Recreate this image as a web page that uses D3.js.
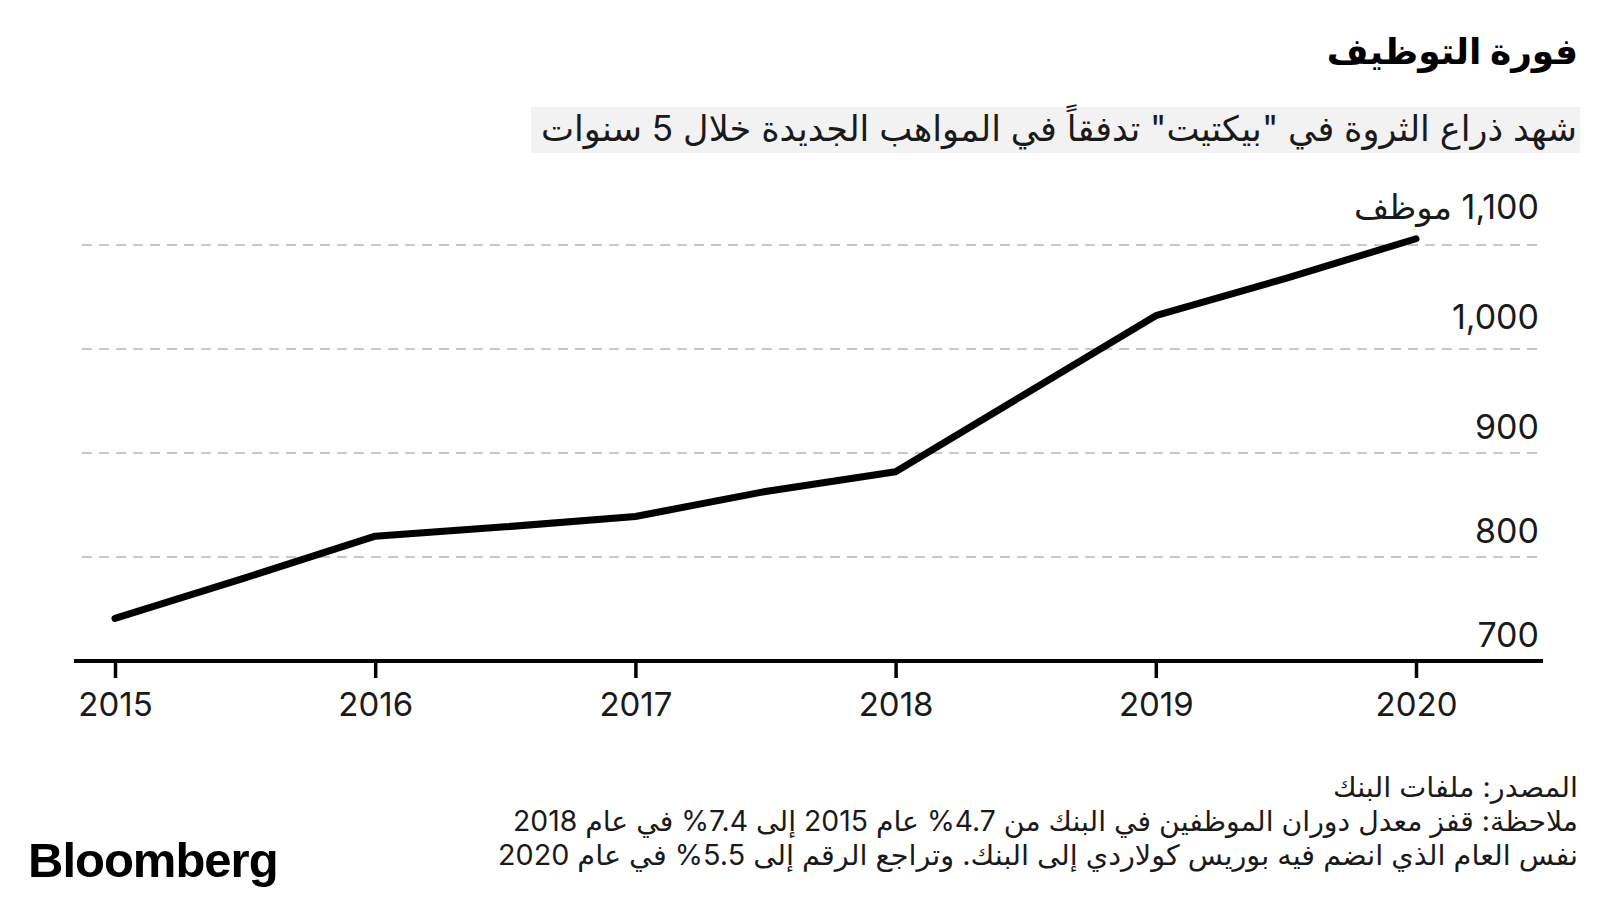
<!doctype html>
<html lang="ar">
<head>
<meta charset="utf-8">
<title>فورة التوظيف</title>
<script src="https://cdn.jsdelivr.net/npm/d3@7"></script>
<style>
	html, body {
		margin: 0;
		padding: 0;
		background: #fff;
	}
	text {
		font-family: Inter, "DejaVu Sans", sans-serif;
		fill: #1a1a1a;
	}
	.grid line {
		stroke: #c8c8c8;
		stroke-width: 2;
		stroke-dasharray: 10,7;
	}
</style>
</head>
<body>
<div id="viz"></div>
<script>

// DATA (staff count at half-year steps)
var years = [2015, 2015.5, 2016, 2016.5, 2017, 2017.5, 2018, 2018.5, 2019, 2019.5, 2020];
var staff = [741, 780, 820, 829, 839, 863, 882, 957, 1032, 1068, 1106];
var xTickYears = [2015, 2016, 2017, 2018, 2019, 2020];
var yTickValues = [700, 800, 900, 1000, 1100];
var yTickLabels = ["700", "800", "900", "1,000", "1,100 موظف"];

// \u202D ... \u202C keeps the percent sign on the left, as printed
var title = "فورة التوظيف";
var subtitle = "شهد ذراع الثروة في \"بيكتيت\" تدفقاً في المواهب الجديدة خلال 5 سنوات";
var notes = [
	"المصدر: ملفات البنك",
	"ملاحظة: قفز معدل دوران الموظفين في البنك من \u202D%4.7\u202C عام 2015 إلى \u202D%7.4\u202C في عام 2018",
	"نفس العام الذي انضم فيه بوريس كولاردي إلى البنك. وتراجع الرقم إلى \u202D%5.5\u202C في عام 2020"
];
var noteWidths = [245, 1065, 1080];

var w = 1600,
	h = 900;

// SCALES
var xScale = d3.scaleLinear()
	.domain([2015, 2020])
	.range([115, 1416]);

var yScale = d3.scaleLinear()
	.domain([700, 1100])
	.range([661, 245]);

var svg = d3.select("#viz")
	.append("svg")
	.attr("width", w)
	.attr("height", h);

// Title and subtitle
svg.append("text")
	.attr("x", 1578)
	.attr("y", 64)
	.attr("direction", "rtl")
	.attr("text-anchor", "start")
	.style("font-size", "36px")
	.style("font-weight", "bold")
	.style("fill", "#000")
	.text(title);

svg.append("rect")
	.attr("x", 531)
	.attr("y", 107)
	.attr("width", 1049)
	.attr("height", 46)
	.style("fill", "#f2f2f2");

svg.append("text")
	.attr("x", 1577)
	.attr("y", 141)
	.attr("direction", "rtl")
	.attr("text-anchor", "start")
	.attr("textLength", 1036)
	.attr("lengthAdjust", "spacingAndGlyphs")
	.style("font-size", "35px")
	.text(subtitle);

// Grid
var grid = svg.append("g").attr("class", "grid");
grid.selectAll("line")
	.data(yTickValues.slice(1))
	.enter()
	.append("line")
	.attr("x1", 82)
	.attr("x2", 1543)
	.attr("y1", function (d) { return yScale(d); })
	.attr("y2", function (d) { return yScale(d); });

// Y labels, sitting above each grid line (top two sit a little higher)
svg.selectAll("text.ylab")
	.data(yTickValues)
	.enter()
	.append("text")
	.attr("class", "ylab")
	.attr("x", 1539)
	.attr("y", function (d) {
		var lift = d === 1100 ? 26 : (d === 1000 ? 20 : 14);
		return yScale(d) - lift;
	})
	.attr("direction", "rtl")
	.attr("text-anchor", "start")
	.style("font-size", "34px")
	.text(function (d, i) { return yTickLabels[i]; });

// X axis
var xAxis = d3.axisBottom(xScale)
	.tickValues(xTickYears)
	.tickFormat(d3.format("d"))
	.tickSize(17)
	.tickPadding(15)
	.tickSizeOuter(0);

var xAxisG = svg.append("g")
	.attr("transform", "translate(0," + yScale(700) + ")")
	.call(xAxis);

xAxisG.select("path.domain").remove();
xAxisG.selectAll(".tick line")
	.style("stroke", "#000")
	.style("stroke-width", 3.5);
xAxisG.selectAll(".tick text")
	.style("font-size", "33px")
	.style("font-family", "Inter, sans-serif")
	.style("fill", "#1a1a1a");

svg.append("line")
	.attr("x1", 74)
	.attr("x2", 1543)
	.attr("y1", yScale(700))
	.attr("y2", yScale(700))
	.style("stroke", "#000")
	.style("stroke-width", 4);

// Line
var line = d3.line()
	.x(function (d, i) { return xScale(years[i]); })
	.y(function (d) { return yScale(d); });

svg.append("path")
	.datum(staff)
	.attr("d", line)
	.style("fill", "none")
	.style("stroke", "#000")
	.style("stroke-width", 7)
	.style("stroke-linejoin", "round")
	.style("stroke-linecap", "round");

// Footer
svg.selectAll("text.note")
	.data(notes)
	.enter()
	.append("text")
	.attr("class", "note")
	.attr("x", 1578)
	.attr("y", function (d, i) { return 797 + i * 34; })
	.attr("direction", "rtl")
	.attr("text-anchor", "start")
	.attr("textLength", function (d, i) { return noteWidths[i]; })
	.attr("lengthAdjust", "spacingAndGlyphs")
	.style("font-size", "28px")
	.text(function (d) { return d; });

svg.append("text")
	.attr("x", 28)
	.attr("y", 877)
	.style("font-family", "\"Liberation Sans\", sans-serif")
	.style("font-size", "49px")
	.style("font-weight", "bold")
	.style("letter-spacing", "-1px")
	.style("fill", "#000")
	.text("Bloomberg");

</script>
</body>
</html>
